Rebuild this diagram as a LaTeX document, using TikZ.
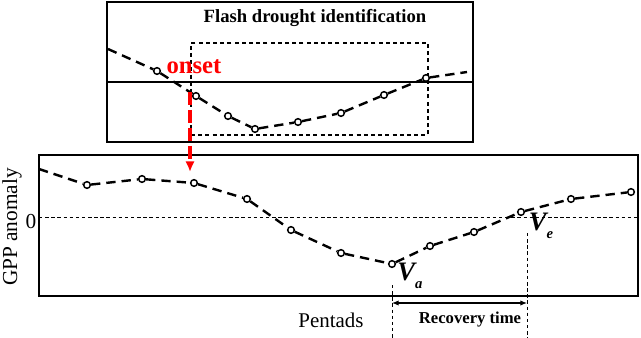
\documentclass[tikz,border=0pt]{standalone}
\usepackage{fontspec}
\setmainfont{Liberation Serif}
\usetikzlibrary{arrows.meta,positioning}

\begin{document}
\begin{tikzpicture}[
  x=0.75pt,y=-0.75pt,
  frame/.style={draw, line width=1.9pt, inner sep=0pt},
  curve/.style={line width=1.8pt, dash pattern=on 7pt off 4.5pt},
  obs/.style={circle, draw, line width=1.1pt, fill=white, inner sep=0pt, minimum size=5pt},
  fine/.style={line width=0.7pt, dash pattern=on 2.6pt off 2pt},
  lab/.style={font=\fontsize{16}{18}\selectfont, inner sep=0pt},
  vlab/.style={font=\fontsize{20}{22}\selectfont\bfseries\itshape, inner sep=0pt},
  arr/.style={-{Latex[length=8pt,width=7pt]}, red, line width=2.3pt, dash pattern=on 10pt off 3.5pt},
  span/.style={{Latex[length=5pt,width=4pt]}-{Latex[length=5pt,width=4pt]}, line width=0.8pt}
]
\useasboundingbox (0,0) rectangle (641,338);

% upper panel
\node[frame, minimum width=274.5pt, minimum height=105pt] (top) at (290,72) {};
\node[font=\fontsize{14}{16}\selectfont\bfseries, inner sep=0pt] (title) at (315,18) {Flash drought identification};
\coordinate (z1) at (107,82);
\coordinate (z2) at (473,82);
\draw[line width=1.1pt] (z1) -- (z2);
\node[draw, line width=0.8pt, dash pattern=on 3pt off 2.4pt, minimum width=177.75pt, minimum height=69pt, inner sep=0pt] (window) at (309.5,89) {};

\coordinate (s0) at (108,49);
\coordinate (s9) at (467,72);
\foreach \n/\x/\y in {a1/157/71, a2/196/96, a3/228/116, a4/255/129, a5/298/122, a6/341/113, a7/384/95, a8/426/78}
  \node[obs] (\n) at (\x,\y) {};
\draw[curve] (s0) -- (a1) -- (a2) -- (a3) -- (a4) -- (a5) -- (a6) -- (a7) -- (a8) -- (s9);

% lower panel
\node[frame, minimum width=449.25pt, minimum height=105.75pt] (main) at (338.5,225.5) {};
\coordinate (y1) at (39,217);
\coordinate (y2) at (638,217);
\draw[fine] (y1) -- (y2);
\node[lab] (zero) at (31,222) {0};
\node[lab, rotate=90] (ylab) at (12,227) {GPP anomaly};

\coordinate (t0) at (39,169);
\foreach \n/\x/\y in {b1/87/185, b2/142/179, b3/194/183, b4/247/199, b5/291/230, b6/341/253, b7/392/264, b8/430/246, b9/474/232, b10/521/212, b11/571/199, b12/631/192}
  \node[obs] (\n) at (\x,\y) {};
\draw[curve] (t0) -- (b1) -- (b2) -- (b3) -- (b4) -- (b5) -- (b6) -- (b7) -- (b8) -- (b9) -- (b10) -- (b11) -- (b12);

\node[vlab] (va) at (410,276) {V\raisebox{-0.6ex}{\fontsize{11}{12}\selectfont a}};
\node[vlab] (ve) at (541,226) {V\raisebox{-0.6ex}{\fontsize{11}{12}\selectfont e}};

% onset
\node[font=\fontsize{18.5}{20}\selectfont\bfseries, text=red, inner sep=0pt] (onset) at (194,67) {onset};
\coordinate (o1) at (190,92);
\coordinate (o2) at (190,172);
\draw[arr] (o1) -- (o2);

% recovery time
\coordinate (d1) at (392,285);
\coordinate (d2) at (392,338);
\coordinate (e1) at (527,233);
\coordinate (e2) at (527,338);
\draw[fine] (d1) -- (d2);
\draw[fine] (e1) -- (e2);
\coordinate (r1) at (392,303);
\coordinate (r2) at (527,303);
\draw[span] (r1) -- (r2);
\node[font=\fontsize{12.5}{14}\selectfont\bfseries, inner sep=0pt] (rec) at (470,320) {Recovery time};
\node[font=\fontsize{15.7}{18}\selectfont, inner sep=0pt] (xlab) at (331,320) {Pentads};
\end{tikzpicture}
\end{document}
